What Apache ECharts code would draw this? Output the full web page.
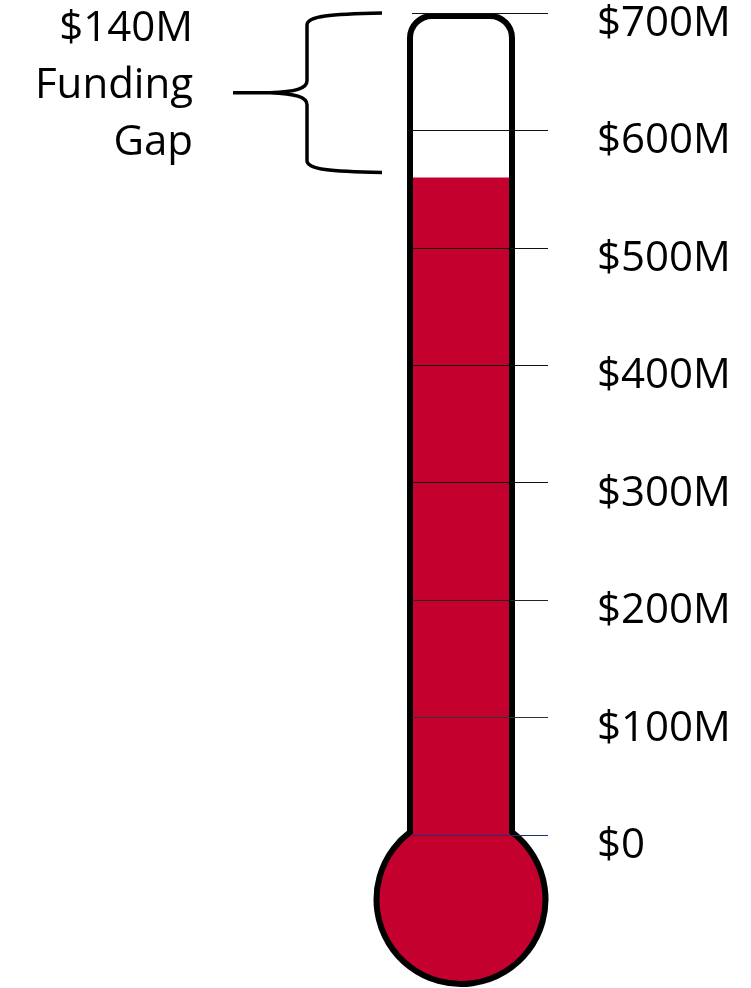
<!DOCTYPE html>
<html>
<head>
<meta charset="utf-8">
<script src="https://cdn.jsdelivr.net/npm/echarts@6/dist/echarts.min.js"></script>
<style>
html,body{margin:0;padding:0;background:#fff;}
#chart{width:751px;height:988px;}
</style>
</head>
<body>
<div id="chart"></div>
<script>
// ---- data ----
const goal = 700;          // $M target
const raised = 560;        // $M raised so far
const gapLabel = ['$140M', 'Funding', 'Gap'];
const tickValues = [0, 100, 200, 300, 400, 500, 600, 700];
const tickLabels = ['$0', '$100M', '$200M', '$300M', '$400M', '$500M', '$600M', '$700M'];

const FONT = '"Open Sans", "DejaVu Sans", sans-serif';
const RED = '#c4002f';

const chart = echarts.init(document.getElementById('chart'), null, {renderer: 'canvas'});

function renderThermo(params, api) {
  const y0 = api.coord([0, 0])[1];
  const yTop = api.coord([0, goal])[1];
  const yLvl = api.coord([0, api.value(1)])[1];
  const gx = api.coord([0, 0])[0];
  const L = gx - 2, R = gx + 100;
  const top = yTop + 3;
  const rad = 22;
  const cx = (L + R) / 2, cy = y0 + 64.5, r = 84.5;
  const yJ = cy - Math.sqrt(r * r - (cx - L) * (cx - L));
  const outline = 'M' + L + ',' + yJ + ' L' + L + ',' + (top + rad) +
    ' A' + rad + ',' + rad + ' 0 0 1 ' + (L + rad) + ',' + top +
    ' L' + (R - rad) + ',' + top +
    ' A' + rad + ',' + rad + ' 0 0 1 ' + R + ',' + (top + rad) +
    ' L' + R + ',' + yJ +
    ' A' + r + ',' + r + ' 0 1 1 ' + L + ',' + yJ + ' Z';
  // brace
  const bT = yTop, bB = yLvl - 5, bM = (bT + bB) / 2;
  const bx = 307, bEnd = 382, tip = 270;
  const brace = 'M' + bEnd + ',' + bT + ' C' + (bx + 23) + ',' + (bT + 1) + ' ' + bx + ',' + (bT + 3) + ' ' + bx + ',' + (bT + 12) +
    ' L' + bx + ',' + (bM - 12) +
    ' C' + bx + ',' + (bM - 4) + ' ' + (bx - 12) + ',' + (bM - 1) + ' ' + tip + ',' + bM +
    ' L233,' + bM +
    ' M' + tip + ',' + bM + ' C' + (bx - 12) + ',' + (bM + 1) + ' ' + bx + ',' + (bM + 4) + ' ' + bx + ',' + (bM + 12) +
    ' L' + bx + ',' + (bB - 12) +
    ' C' + bx + ',' + (bB - 3) + ' ' + (bx + 23) + ',' + (bB - 1) + ' ' + bEnd + ',' + bB;
  return {
    type: 'group',
    children: [
      {type: 'rect', shape: {x: L, y: yLvl, width: R - L, height: yJ + 10 - yLvl}, style: {fill: RED}},
      {type: 'circle', shape: {cx: cx, cy: cy, r: r}, style: {fill: RED}},
      {type: 'path', shape: {pathData: outline}, style: {fill: null, stroke: '#000', lineWidth: 6, lineJoin: 'round'}},
      {type: 'path', shape: {pathData: brace}, style: {fill: null, stroke: '#000', lineWidth: 3.5}}
    ]
  };
}

chart.setOption({
  animation: false,
  backgroundColor: '#fff',
  grid: {left: 412, right: 203, top: 13, bottom: 153, containLabel: false, outerBoundsMode: 'none'},
  xAxis: {type: 'value', min: 0, max: 1, show: false},
  yAxis: {
    type: 'value', position: 'right', min: 0, max: goal, interval: 100, z: 5,
    axisLine: {show: false}, axisTick: {show: false},
    splitLine: {show: true, lineStyle: {color: ['#1f2f6f', '#333', '#222', '#111', '#111', '#111', '#111', '#111'], width: 1}},
    axisLabel: {
      margin: 49, align: 'left', verticalAlign: 'top', lineHeight: 22,
      fontFamily: FONT, fontSize: 42, color: '#000',
      formatter: function (v) { const i = tickValues.indexOf(v); return i >= 0 ? tickLabels[i] : ''; }
    }
  },
  series: [{
    type: 'custom', z: 2, silent: true,
    renderItem: renderThermo,
    data: [[0, raised]]
  }],
  graphic: [{
    type: 'text', x: 193, y: 1,
    style: {text: gapLabel.join('\n'), font: '42px ' + FONT, fill: '#000', align: 'right', verticalAlign: 'top', lineHeight: 57}
  }]
});
</script>
</body>
</html>
